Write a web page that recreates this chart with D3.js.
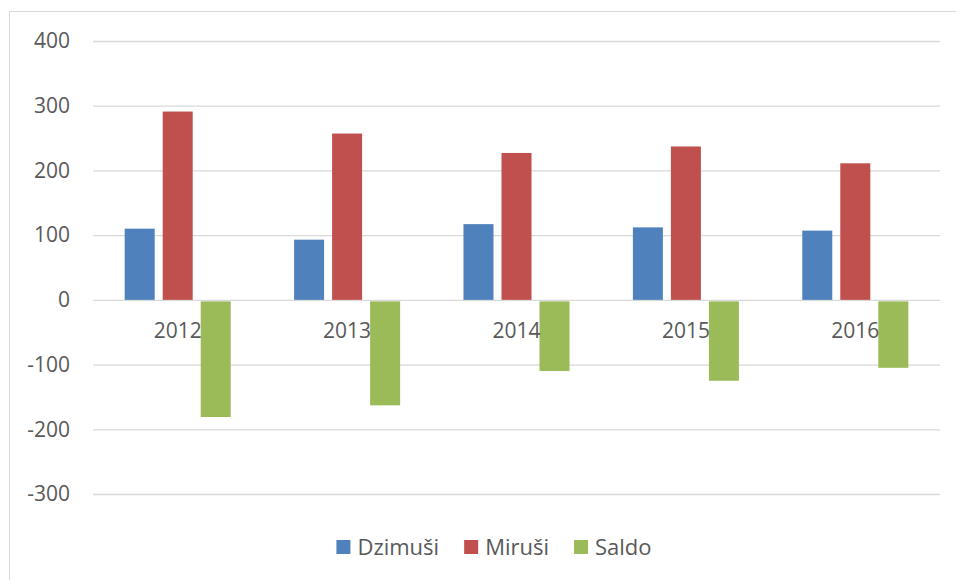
<!DOCTYPE html>
<meta charset="utf-8">
<style>
html, body {
  margin: 0;
  overflow: hidden;
  background: #fff;
}
svg text {
  font-family: "Open Sans", sans-serif;
  fill: #595959;
}
</style>
<body>
<script src="https://d3js.org/d3.v7.min.js"></script>
<script>
var years = ["2012", "2013", "2014", "2015", "2016"];
var series = ["Dzimuši", "Miruši", "Saldo"];
var dzimusi = [110, 93, 117, 112, 107];
var mirusi = [291, 257, 227, 237, 211];
var saldo = [-181, -163, -110, -125, -105];
var yTicks = [-300, -200, -100, 0, 100, 200, 300, 400];
var colors = ["#4f81bd", "#c0504d", "#9bbb59"];

var width = 956, height = 580;
var values = [dzimusi, mirusi, saldo];

var svg = d3.select("body").append("svg")
    .attr("width", width)
    .attr("height", height);

// chart frame
svg.append("rect")
  .attr("x", 9.5).attr("y", 11.5)
  .attr("width", 1000).attr("height", 1000)
  .attr("fill", "none")
  .attr("stroke", "#d9d9d9");

var left = 93, right = 940;

var y = d3.scaleLinear().domain([-300, 400]).range([494, 41]);

var x0 = d3.scaleBand().domain(years).range([left, right])
    .paddingInner(0.374).paddingOuter(0.187);
var x1 = d3.scaleBand().domain(series).range([0, x0.bandwidth()])
    .paddingInner(8 / 38);

var yAxis = d3.axisLeft(y)
    .tickValues(yTicks)
    .tickFormat(function(d) { return String(d); }) // plain hyphen like the original
    .tickSizeInner(-(right - left))
    .tickSizeOuter(0)
    .tickPadding(23);

var ga = svg.append("g")
  .attr("transform", "translate(" + left + ",0)")
  .call(yAxis);
ga.select(".domain").remove();
ga.selectAll(".tick line").attr("stroke", "#d9d9d9").attr("stroke-width", 1.3);
ga.selectAll(".tick text")
  .attr("font-size", 21)
  .style("font-family", "'Open Sans', sans-serif")
  .attr("fill", "#595959");

// bars
series.forEach(function(s, si) {
  svg.append("g").selectAll("rect")
    .data(years)
    .join("rect")
      .attr("x", function(d) { return x0(d) + x1(s); })
      .attr("width", x1.bandwidth())
      .attr("y", function(d, i) { return y(Math.max(0, values[si][i])) + (values[si][i] < 0 ? 1.5 : 0); })
      .attr("height", function(d, i) { return Math.abs(y(values[si][i]) - y(0)) - (values[si][i] < 0 ? 1.5 : 0); })
      .attr("fill", colors[si]);
});

// category labels
svg.append("g").selectAll("text")
  .data(years)
  .join("text")
    .attr("x", function(d) { return x0(d) + x0.bandwidth() / 2; })
    .attr("y", 338)
    .attr("text-anchor", "middle")
    .attr("font-size", 21)
    .text(function(d) { return d; });

// legend
var legend = svg.append("g");
var lx = 0;
series.forEach(function(s, i) {
  var item = legend.append("g").attr("transform", "translate(" + lx + ",0)");
  item.append("rect")
    .attr("x", 0).attr("y", -7)
    .attr("width", 14).attr("height", 14)
    .attr("fill", colors[i]);
  var t = item.append("text")
    .attr("x", 21).attr("y", 7.5)
    .attr("font-size", 22)
    .text(s);
  lx += 21 + t.node().getComputedTextLength() + 25;
});
lx -= 25;
legend.attr("transform", "translate(" + (494 - lx / 2) + ",547)");
</script>
</body>
